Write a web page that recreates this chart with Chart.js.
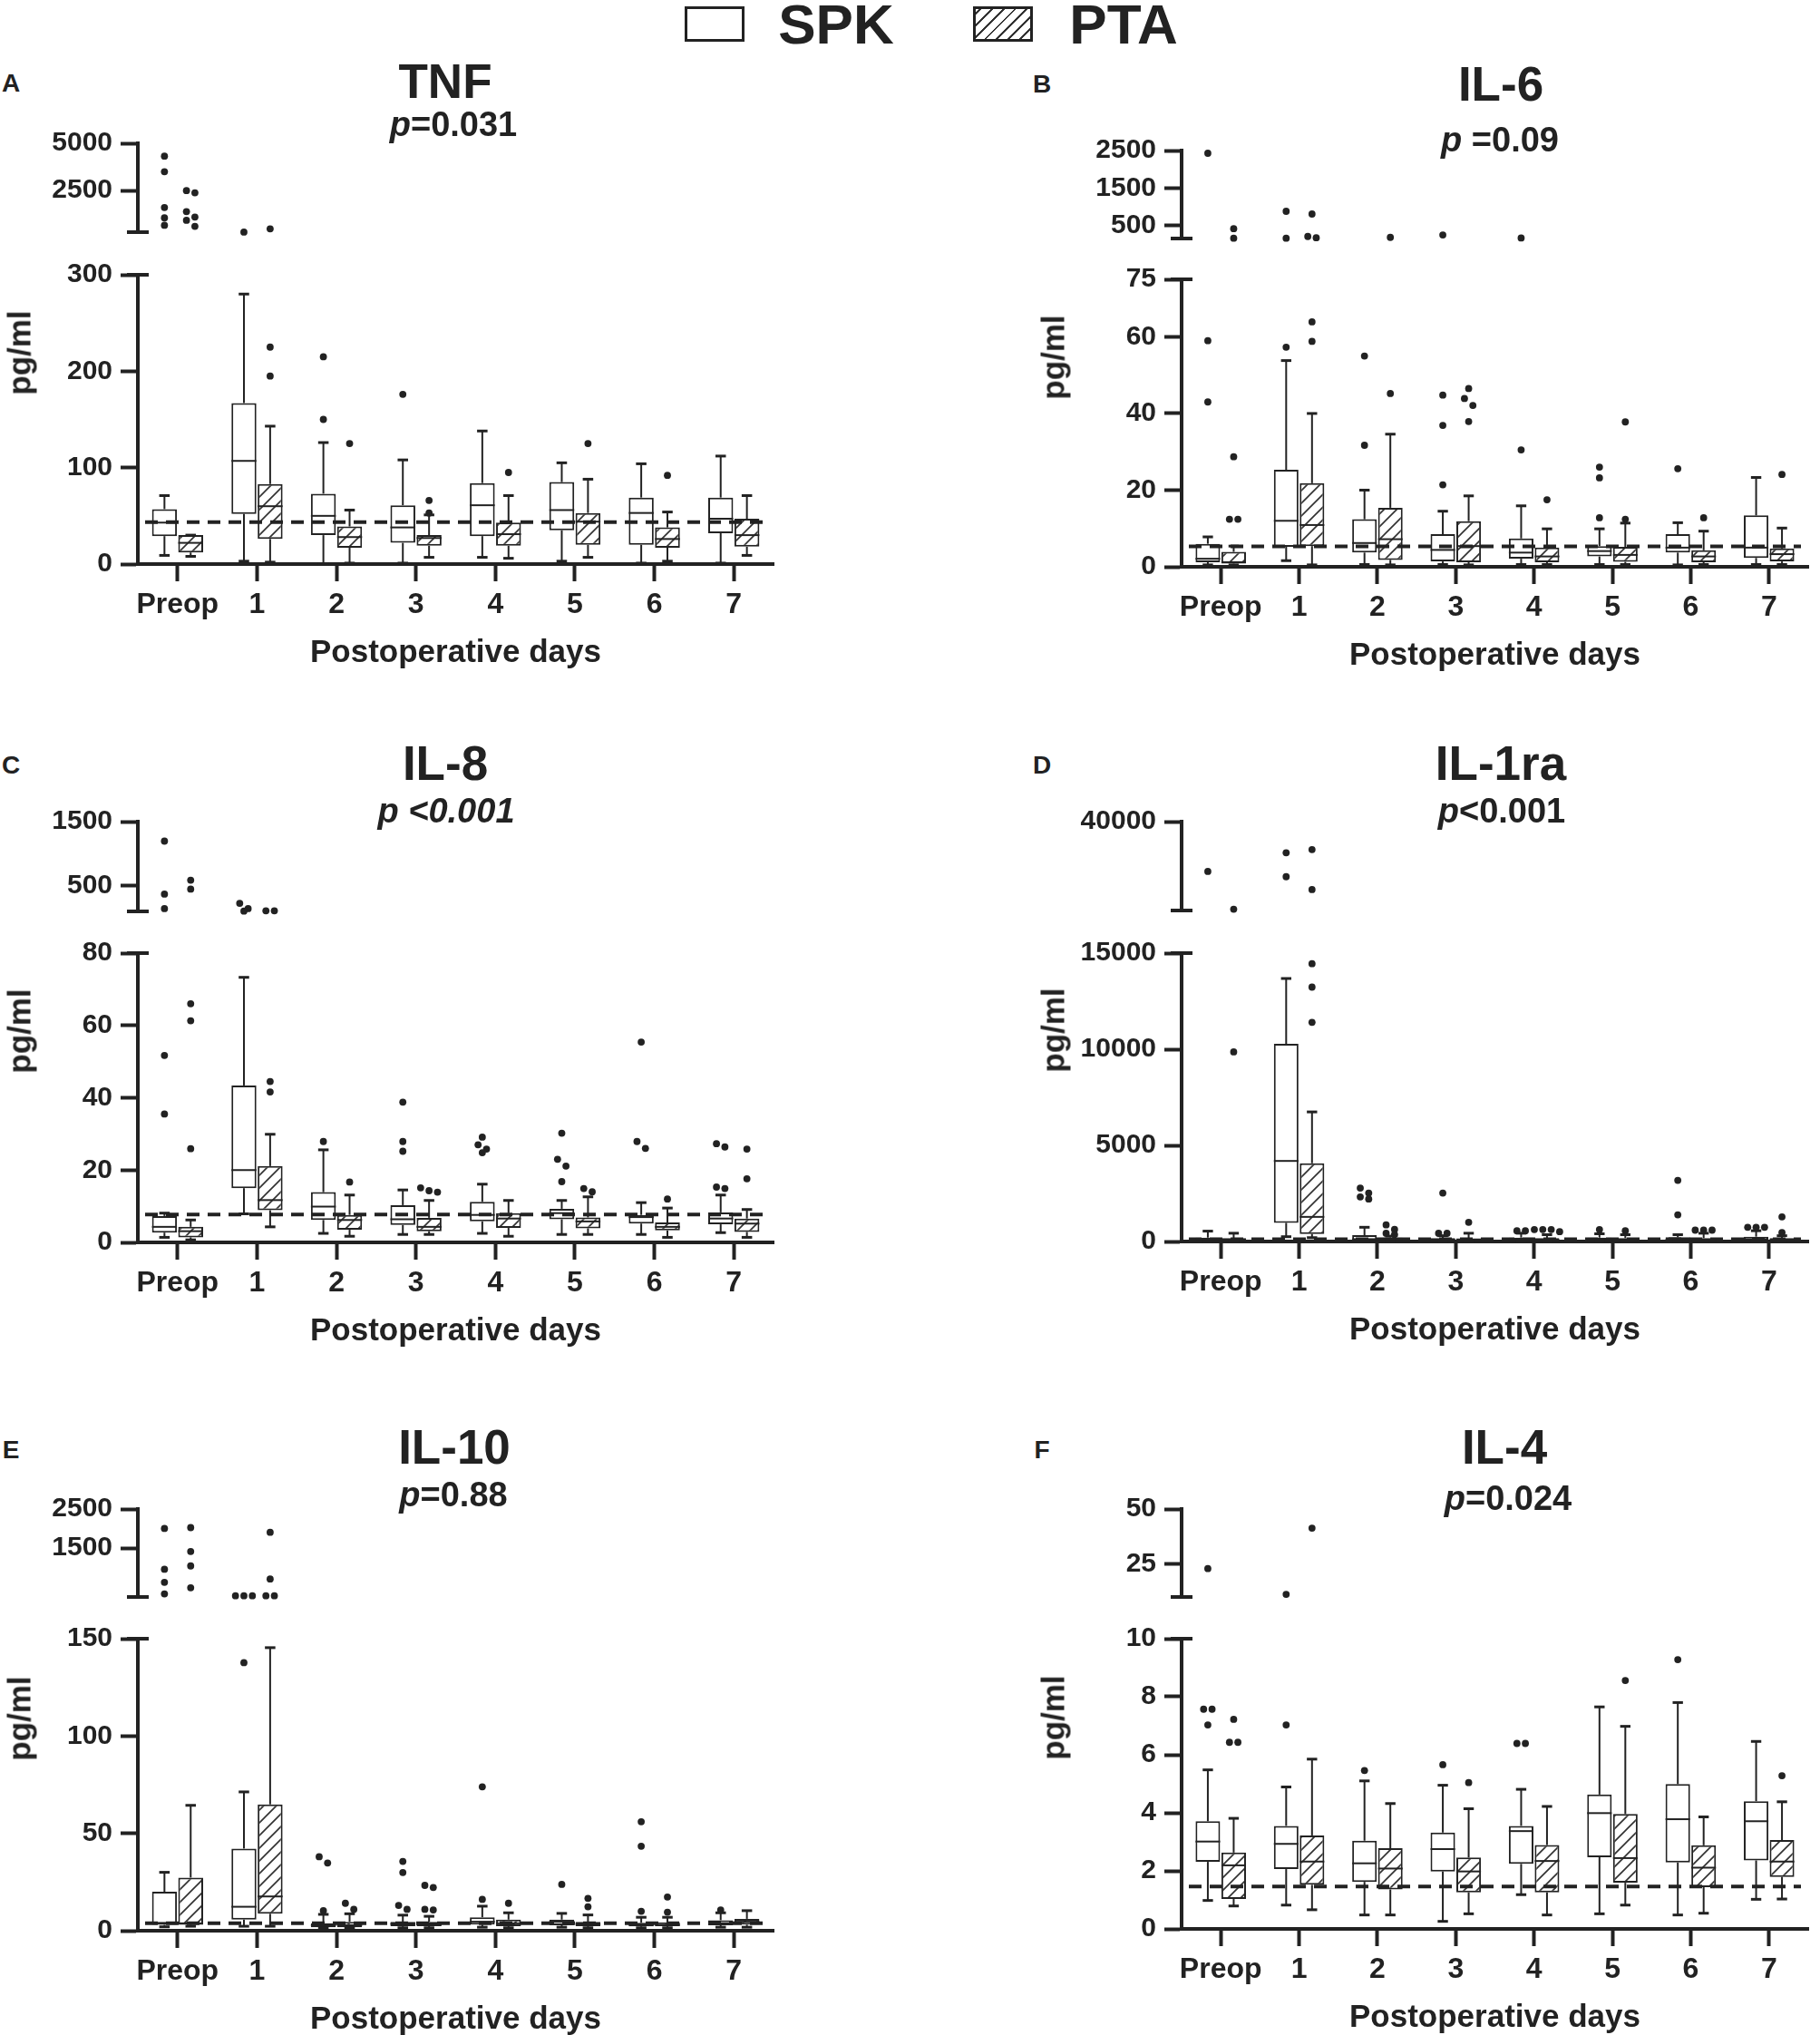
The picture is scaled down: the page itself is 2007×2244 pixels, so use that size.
<!DOCTYPE html>
<html>
<head>
<meta charset="utf-8">
<script src="https://cdn.jsdelivr.net/npm/chart.js@4.4.1/dist/chart.umd.min.js"></script>
<style>
  body { margin: 0; background: #fff; }
  #fig { position: relative; width: 2007px; height: 2244px; overflow: hidden;
         font-family: 'Liberation Sans', Arial, Helvetica, sans-serif; font-weight: bold; color: #222; }
  #fig canvas { position: absolute; }
  .txt { position: absolute; white-space: nowrap; line-height: 1; transform: translate(-50%, -50%); }
  .swatch { position: absolute; box-sizing: border-box; border: 3px solid #222; background: #fff; }
</style>
</head>
<body>
<div id="fig"></div>
<script>
// ---- data ----
var days = ['Preop', '1', '2', '3', '4', '5', '6', '7'];

// each box row: [low whisker, Q1, median, Q3, high whisker]
// TNF
var tnfSpk = [[9,29,43,57,71],[3,52,107,167,280],[0,30,50,73,126],[1,22,38,61,108],
              [7,29,61,84,138],[3,35,56,85,105],[1,20,53,69,104],[1,32,47,69,112]];
var tnfPta = [[8,12,22,30,30],[2,26,60,83,143],[1,17,28,39,56],[7,19,27,30,51],
              [6,19,31,43,71],[7,20,44,53,88],[3,17,26,38,54],[9,18,30,47,71]];
var tnfSpkOut = [[4321,3497,1604,1055,665],[304],[215,150],[176],[],[],[],[]];
var tnfPtaOut = [[2500,2385,1387,1098,925,607],[477,225,195],[125],[66,53],[95],[125],[92],[]];
var tnfUpperTicks = [2500, 5000];
var tnfLowerTicks = [0, 100, 200, 300];

// IL-6
var il6Spk = [[0.5,1.2,2.1,6,7.8],[1.6,5.2,12,25.3,53.8],[0.6,3.7,6.2,12.4,20],[0.6,1.4,4.4,8.5,14.5],
              [0.6,2.1,3.7,7.4,15.9],[0.6,2.7,4.1,5.4,9.9],[0.5,3.7,5,8.5,11.5],[0.6,2.3,5,13.4,23.3]];
var il6Pta = [[0.5,0.8,1.2,3.9,5.4],[0.5,5.4,10.9,21.8,40],[0.5,1.8,7.2,15.4,34.6],[0.5,1.2,5.4,11.9,18.5],
              [0.6,1.2,2.7,5,9.9],[0.6,1.3,3.1,5.2,11.4],[0.6,1.2,2.7,4.3,9.3],[0.6,1.4,3.3,4.8,10.1]];
var il6SpkOut = [[2427,59,43],[877,158,57.3],[55,31.7],[245,44.8,36.9,21.4],[165,30.5],[26,23.2,12.8],[25.6],[]];
var il6PtaOut = [[413,158,28.7,12.4,12.4],[804,205,170,63.9,58.8],[180,45.2],[46.5,43.9,42.1,37.9],[17.5],[37.8,12.4],[12.8],[24.1]];
var il6UpperTicks = [500, 1500, 2500];
var il6LowerTicks = [0, 20, 40, 60, 75];

// IL-8
var il8Spk = [[1.4,2.7,4.3,7.3,8.1],[7.9,15,20,43.4,73.3],[2.5,6.2,9.9,13.9,25.6],[2.2,4.8,6.4,10.3,14.5],
              [2.5,5.8,7.6,11.2,16.1],[2.2,6.4,8.1,9.3,11.6],[2.2,5.2,7,7.6,11],[2.7,5,6.6,8.3,13.1]];
var il8Pta = [[0.7,1.4,3.1,4.3,6.2],[4.3,8.9,11.7,21.1,29.9],[1.7,3.5,6.2,7.6,13.1],[2.2,3.1,4.3,6.8,11.6],
              [1.7,4,6.6,8.1,11.6],[2.2,3.9,5.8,6.9,12.6],[1.4,3.3,4.3,5.5,9.5],[1.4,2.9,5.2,6.6,9.1]];
var il8SpkOut = [[1196,370,143,51.7,35.5],[226,143,105],[27.9],[38.8,27.9,25.2],[29.1,27,25.8,24.8],
                 [30.2,23,21.1,16.8],[55.4,27.9,26],[27.3,26.4,15.3,14.9]];
var il8PtaOut = [[587,448,66,61.3,25.9],[109,109,44.5,41.6],[16.7],[15.1,14.3,13.9],[],[14.9,14],[12],[25.8,17.6]];
var il8UpperTicks = [500, 1500];
var il8LowerTicks = [0, 20, 40, 60, 80];

// IL-1ra
var il1raSpk = [[0,50,100,200,540],[250,970,4190,10280,13680],[0,60,120,325,740],[0,40,90,180,300],
                [0,40,90,200,430],[0,40,90,200,400],[0,40,100,220,355],[0,50,110,250,560]];
var il1raPta = [[0,40,90,180,430],[200,390,1280,4070,6740],[0,50,100,200,280],[0,40,80,160,430],
                [0,40,80,180,355],[0,40,80,180,355],[0,40,80,180,430],[0,40,80,180,300]];
var il1raSpkOut = [[28800],[33000,27600],[2780,2520,2320,2210],[2520,430,430],[560,560],[620],[3180,1390],[740,740,740]];
var il1raPtaOut = [[20300,9860],[33700,24700,14450,13230,11400],[865,630,430,355],[1000],[620,620,620,510],[560],[590,590,590],[1280,460]];
var il1raUpperTicks = [40000];
var il1raLowerTicks = [0, 5000, 10000, 15000];

// IL-10
var il10Spk = [[2,3,4,20,30],[2.3,5.7,12.3,42.2,71.3],[1.2,1.8,2.8,3.8,8.4],[1.5,2.3,3.5,4.6,8],
               [1.8,3.1,4.6,6.9,12.6],[1.8,2.8,4.6,5.7,8.9],[1.5,2.2,3,4.1,6.9],[1.8,2.8,3.8,5.4,9.2]];
var il10Pta = [[2.3,3,3.8,27.3,64.4],[2.3,8.7,17.6,64.9,145.4],[1.2,1.8,2.8,4.6,8.7],[1.5,2.3,3.4,4.6,7.4],
               [1.5,2.3,3.8,5.7,9.2],[1.5,2.3,3.4,4.6,8.1],[1.5,2.3,3,4.3,6.9],[1.8,3.1,4.6,6.1,10.3]];
var il10SpkOut = [[2003,960,625,330],[280,280,280,137.7],[38,34.8,10.3],[35.6,29.9,13,11],[73.9,16.1],[23.8],[56,43.4,10],[10.7]];
var il10PtaOut = [[2024,1415,1045,485],[1905,710,280,280],[14.1,11],[23.3,22.2,11,10.7],[14.1],[16.6,12.3],[17.3,9.5],[]];
var il10UpperTicks = [1500, 2500];
var il10LowerTicks = [0, 50, 100, 150];

// IL-4
var il4Spk = [[0.98,2.31,3.01,3.71,5.48],[0.82,2.06,2.93,3.55,4.89],[0.48,1.62,2.26,3.04,5.1],[0.26,1.98,2.75,3.32,4.95],
              [1.18,2.24,3.37,3.55,4.81],[0.52,2.47,3.99,4.63,7.65],[0.48,2.29,3.78,4.99,7.8],[1.02,2.36,3.71,4.4,6.46]];
var il4Pta = [[0.79,1.03,2.19,2.63,3.81],[0.66,1.52,2.32,3.22,5.85],[0.48,1.36,2.08,2.78,4.32],[0.52,1.26,1.98,2.46,4.14],
              [0.48,1.26,2.34,2.89,4.22],[0.82,1.59,2.44,3.96,6.98],[0.54,1.44,2.11,2.88,3.86],[1.03,1.79,2.32,3.06,4.38]];
var il4SpkOut = [[22.9,7.57,7.57,7.03],[11.2,7.03],[5.46],[5.66],[6.39,6.39],[],[9.28],[]];
var il4PtaOut = [[7.22,6.43,6.43],[41.3],[],[5.04],[],[8.56],[],[5.28]];
var il4UpperTicks = [25, 50];
var il4LowerTicks = [0, 2, 4, 6, 8, 10];

// ---- panels: data refs + axis ranges + placement ----
var panels = [
  { letter: 'A', name: 'TNF', p: '<i>p</i>=0.031', col: 0, spk: tnfSpk, pta: tnfPta, spkOut: tnfSpkOut, ptaOut: tnfPtaOut,
    upTicks: tnfUpperTicks, lowTicks: tnfLowerTicks, upMin: 300, ref: 43.5,
    up: [155, 263], low: [300, 622], titleX: 491, pX: 500, titleY: 89, pY: 137, letterY: 92 },
  { letter: 'B', name: 'IL-6', p: '<i>p</i> =0.09', col: 1, spk: il6Spk, pta: il6Pta, spkOut: il6SpkOut, ptaOut: il6PtaOut,
    upTicks: il6UpperTicks, lowTicks: il6LowerTicks, upMin: 150, ref: 5.3,
    up: [163, 270], low: [305, 625], titleX: 1655, pX: 1654, titleY: 92, pY: 154, letterY: 93 },
  { letter: 'C', name: 'IL-8', p: '<i>p &lt;0.001</i>', col: 0, spk: il8Spk, pta: il8Pta, spkOut: il8SpkOut, ptaOut: il8PtaOut,
    upTicks: il8UpperTicks, lowTicks: il8LowerTicks, upMin: 100, ref: 7.7,
    up: [903, 1012], low: [1048, 1370], titleX: 491, pX: 492, titleY: 841, pY: 894, letterY: 844 },
  { letter: 'D', name: 'IL-1ra', p: '<i>p</i>&lt;0.001', col: 1, spk: il1raSpk, pta: il1raPta, spkOut: il1raSpkOut, ptaOut: il1raPtaOut,
    upTicks: il1raUpperTicks, lowTicks: il1raLowerTicks, upMin: 20000, ref: 120,
    up: [903, 1011], low: [1048, 1369], titleX: 1655, pX: 1656, titleY: 841, pY: 894, letterY: 844 },
  { letter: 'E', name: 'IL-10', p: '<i>p</i>=0.88', col: 0, spk: il10Spk, pta: il10Pta, spkOut: il10SpkOut, ptaOut: il10PtaOut,
    upTicks: il10UpperTicks, lowTicks: il10LowerTicks, upMin: 250, ref: 3.8,
    up: [1661, 1768], low: [1804, 2129], titleX: 501, pX: 500, titleY: 1595, pY: 1648, letterY: 1599 },
  { letter: 'F', name: 'IL-4', p: '<i>p</i>=0.024', col: 1, spk: il4Spk, pta: il4Pta, spkOut: il4SpkOut, ptaOut: il4PtaOut,
    upTicks: il4UpperTicks, lowTicks: il4LowerTicks, upMin: 10, ref: 1.46,
    up: [1661, 1768], low: [1804, 2127], titleX: 1659, pX: 1663, titleY: 1595, pY: 1652, letterY: 1599 }
];

var INK = '#222';
var FONT = "'Liberation Sans', Arial, Helvetica, sans-serif";
var YW = 140;        // fixed y-axis box width
var XH = 119;        // fixed x-axis box height
var PT = 24;         // room above chart area for top tick label
var CAT_PCT = 0.66, BAR_PCT = 0.95;
var DOT_R = 3.9;
var cols = [{ left: 152, right: 853, pgX: 21, letterX: 12 }, { left: 1303, right: 1994, pgX: 1161, letterX: 1149 }];

var fig = document.getElementById('fig');

// hatch pattern for PTA boxes
function hatch() {
  var s = 14, c = document.createElement('canvas');
  c.width = s; c.height = s;
  var g = c.getContext('2d');
  g.fillStyle = '#fff'; g.fillRect(0, 0, s, s);
  g.strokeStyle = '#333'; g.lineWidth = 1.7;
  g.beginPath();
  g.moveTo(0, s); g.lineTo(s, 0);
  g.moveTo(-s / 2, s / 2); g.lineTo(s / 2, -s / 2);
  g.moveTo(s / 2, s * 1.5); g.lineTo(s * 1.5, s / 2);
  g.stroke();
  return g.createPattern(c, 'repeat');
}
var ptaFill = hatch();

function addCanvas(left, top, w, h) {
  var c = document.createElement('canvas');
  c.width = w; c.height = h;
  c.style.left = left + 'px'; c.style.top = top + 'px';
  c.style.width = w + 'px'; c.style.height = h + 'px';
  fig.appendChild(c);
  return c;
}

function addText(html, x, y, size, extra) {
  var d = document.createElement('div');
  d.className = 'txt';
  d.innerHTML = html;
  d.style.left = x + 'px'; d.style.top = y + 'px';
  d.style.fontSize = size + 'px';
  if (extra) d.style.transform = 'translate(-50%, -50%) ' + extra;
  fig.appendChild(d);
}

// x position/width of group di (0 = SPK, 1 = PTA) in category i, same rule as Chart.js grouped bars
function slotX(xs, i, di) {
  var c = xs.getPixelForValue(i);
  var cw = xs.getPixelForValue(1) - xs.getPixelForValue(0);
  var slot = cw * CAT_PCT / 2;
  return { x: c + (di - 0.5) * slot, w: slot * BAR_PCT };
}

function line(ctx, x1, y1, x2, y2) {
  ctx.beginPath(); ctx.moveTo(x1, y1); ctx.lineTo(x2, y2); ctx.stroke();
}

// outlier dots; overlapping dots are spread sideways
function drawDots(ctx, x, ys) {
  ys = ys.slice().sort(function (a, b) { return a - b; });
  var step = DOT_R * 2 + 1.5, i = 0;
  while (i < ys.length) {
    var grp = [ys[i]], j = i + 1;
    while (j < ys.length && ys[j] - ys[i] < DOT_R * 2) { grp.push(ys[j]); j++; }
    grp.forEach(function (y, k) {
      ctx.beginPath();
      ctx.arc(x + (k - (grp.length - 1) / 2) * step, y, DOT_R, 0, Math.PI * 2);
      ctx.fill();
    });
    i = j;
  }
}

function boxPlugin(pn, part) {
  var lowMax = pn.lowTicks[pn.lowTicks.length - 1];
  return {
    id: 'boxes_' + part,
    afterDatasetsDraw: function (chart) {
      var ctx = chart.ctx, xs = chart.scales.x, ys = chart.scales.y, area = chart.chartArea;
      ctx.save();
      ctx.strokeStyle = INK; ctx.fillStyle = INK;
      if (part === 'lower') {
        // reference line
        ctx.lineWidth = 4; ctx.setLineDash([14, 9]);
        line(ctx, area.left + 8, ys.getPixelForValue(pn.ref), area.right - 8, ys.getPixelForValue(pn.ref));
        ctx.setLineDash([]);
      }
      [pn.spk, pn.pta].forEach(function (boxes, di) {
        var outs = di === 0 ? pn.spkOut : pn.ptaOut;
        boxes.forEach(function (b, i) {
          var s = slotX(xs, i, di);
          if (part === 'lower') {
            var py = b.map(function (v) { return ys.getPixelForValue(v); });
            ctx.lineWidth = 2;
            line(ctx, s.x - s.w / 2, py[2], s.x + s.w / 2, py[2]);
            line(ctx, s.x, py[3], s.x, py[4]);
            line(ctx, s.x, py[1], s.x, py[0]);
            ctx.lineWidth = 3;
            var cw = s.w * 0.42;
            line(ctx, s.x - cw / 2, py[4], s.x + cw / 2, py[4]);
            line(ctx, s.x - cw / 2, py[0], s.x + cw / 2, py[0]);
          }
          var dots = outs[i].filter(function (v) { return part === 'lower' ? v <= lowMax : v > lowMax; })
            .map(function (v) { return ys.getPixelForValue(part === 'upper' ? Math.max(v, pn.upMin) : v); });
          drawDots(ctx, s.x, dots);
        });
      });
      // break caps at the segment ends
      ctx.lineWidth = 4;
      var ax = area.left;
      if (part === 'upper') line(ctx, ax - 12, area.bottom, ax + 12, area.bottom);
      else line(ctx, ax - 12, area.top, ax + 12, area.top);
      ctx.restore();
    }
  };
}

function yScale(min, max, ticks) {
  return {
    type: 'linear', min: min, max: max,
    afterBuildTicks: function (s) { s.ticks = ticks.map(function (v) { return { value: v }; }); },
    afterFit: function (s) { s.width = YW; },
    grid: { drawOnChartArea: false, drawTicks: true, tickLength: 19, tickWidth: 4, tickColor: INK },
    border: { display: true, width: 4, color: INK },
    ticks: { color: INK, padding: 9, autoSkip: false, font: { family: FONT, size: 30, weight: 'bold' },
             callback: function (v) { return String(v); } }
  };
}

function makeCharts(pn) {
  var col = cols[pn.col];
  var w = (col.right - col.left) + YW + 8;
  var left = col.left - YW;
  var lowMax = pn.lowTicks[pn.lowTicks.length - 1];
  var upMax = pn.upTicks[pn.upTicks.length - 1];

  // upper (broken) segment
  var cu = addCanvas(left, pn.up[0] - PT, w, (pn.up[1] - pn.up[0]) + PT + 20);
  new Chart(cu, {
    type: 'bar',
    data: { labels: days, datasets: [
      { label: 'SPK', data: days.map(function () { return null; }) },
      { label: 'PTA', data: days.map(function () { return null; }) }
    ] },
    options: {
      responsive: false, animation: false, devicePixelRatio: 1,
      layout: { padding: { top: PT, right: 8, bottom: 20, left: 0 } },
      plugins: { legend: { display: false }, tooltip: { enabled: false } },
      scales: {
        x: { display: false, offset: true },
        y: yScale(pn.upMin, upMax, pn.upTicks)
      }
    },
    plugins: [boxPlugin(pn, 'upper')]
  });

  // lower (main) segment with boxes
  var cl = addCanvas(left, pn.low[0] - PT, w, (pn.low[1] - pn.low[0]) + PT + XH + 4);
  new Chart(cl, {
    type: 'bar',
    data: { labels: days, datasets: [
      { label: 'SPK', data: pn.spk.map(function (b) { return [b[1], b[3]]; }),
        backgroundColor: '#fff', borderColor: INK, borderWidth: 2, borderSkipped: false },
      { label: 'PTA', data: pn.pta.map(function (b) { return [b[1], b[3]]; }),
        backgroundColor: ptaFill, borderColor: INK, borderWidth: 2, borderSkipped: false }
    ] },
    options: {
      responsive: false, animation: false, devicePixelRatio: 1,
      categoryPercentage: CAT_PCT, barPercentage: BAR_PCT,
      layout: { padding: { top: PT, right: 8, bottom: 4, left: 0 } },
      plugins: { legend: { display: false }, tooltip: { enabled: false } },
      scales: {
        x: {
          offset: true,
          afterFit: function (s) { s.height = XH; },
          grid: { display: true, drawOnChartArea: false, offset: false, tickLength: 19, tickWidth: 4, tickColor: INK },
          border: { display: true, width: 4, color: INK },
          ticks: { color: INK, padding: 7, maxRotation: 0, autoSkip: false, font: { family: FONT, size: 32, weight: 'bold' } },
          title: { display: true, text: 'Postoperative days', color: INK, padding: { top: 0, bottom: 0 },
                   font: { family: FONT, size: 35, weight: 'bold' } }
        },
        y: yScale(0, lowMax, pn.lowTicks)
      }
    },
    plugins: [boxPlugin(pn, 'lower')]
  });

  // texts
  addText(pn.letter, col.letterX, pn.letterY, 28);
  addText(pn.name, pn.titleX, pn.titleY, 53);
  addText(pn.p, pn.pX, pn.pY, 38);
  addText('pg/ml', col.pgX, (pn.up[0] + pn.low[1]) / 2, 35, 'rotate(-90deg)');
}

panels.forEach(makeCharts);

// figure legend
(function () {
  var s1 = document.createElement('div');
  s1.className = 'swatch';
  s1.style.cssText = 'left:755px;top:7px;width:66px;height:39px;';
  fig.appendChild(s1);
  var s2 = document.createElement('div');
  s2.className = 'swatch';
  s2.style.cssText = 'left:1073px;top:7px;width:66px;height:39px;' +
    'background:repeating-linear-gradient(-45deg,#fff 0 7px,#333 7px 9px);';
  fig.appendChild(s2);
  addText('SPK', 922, 27, 62);
  addText('PTA', 1239, 27, 62);
})();
</script>
</body>
</html>
